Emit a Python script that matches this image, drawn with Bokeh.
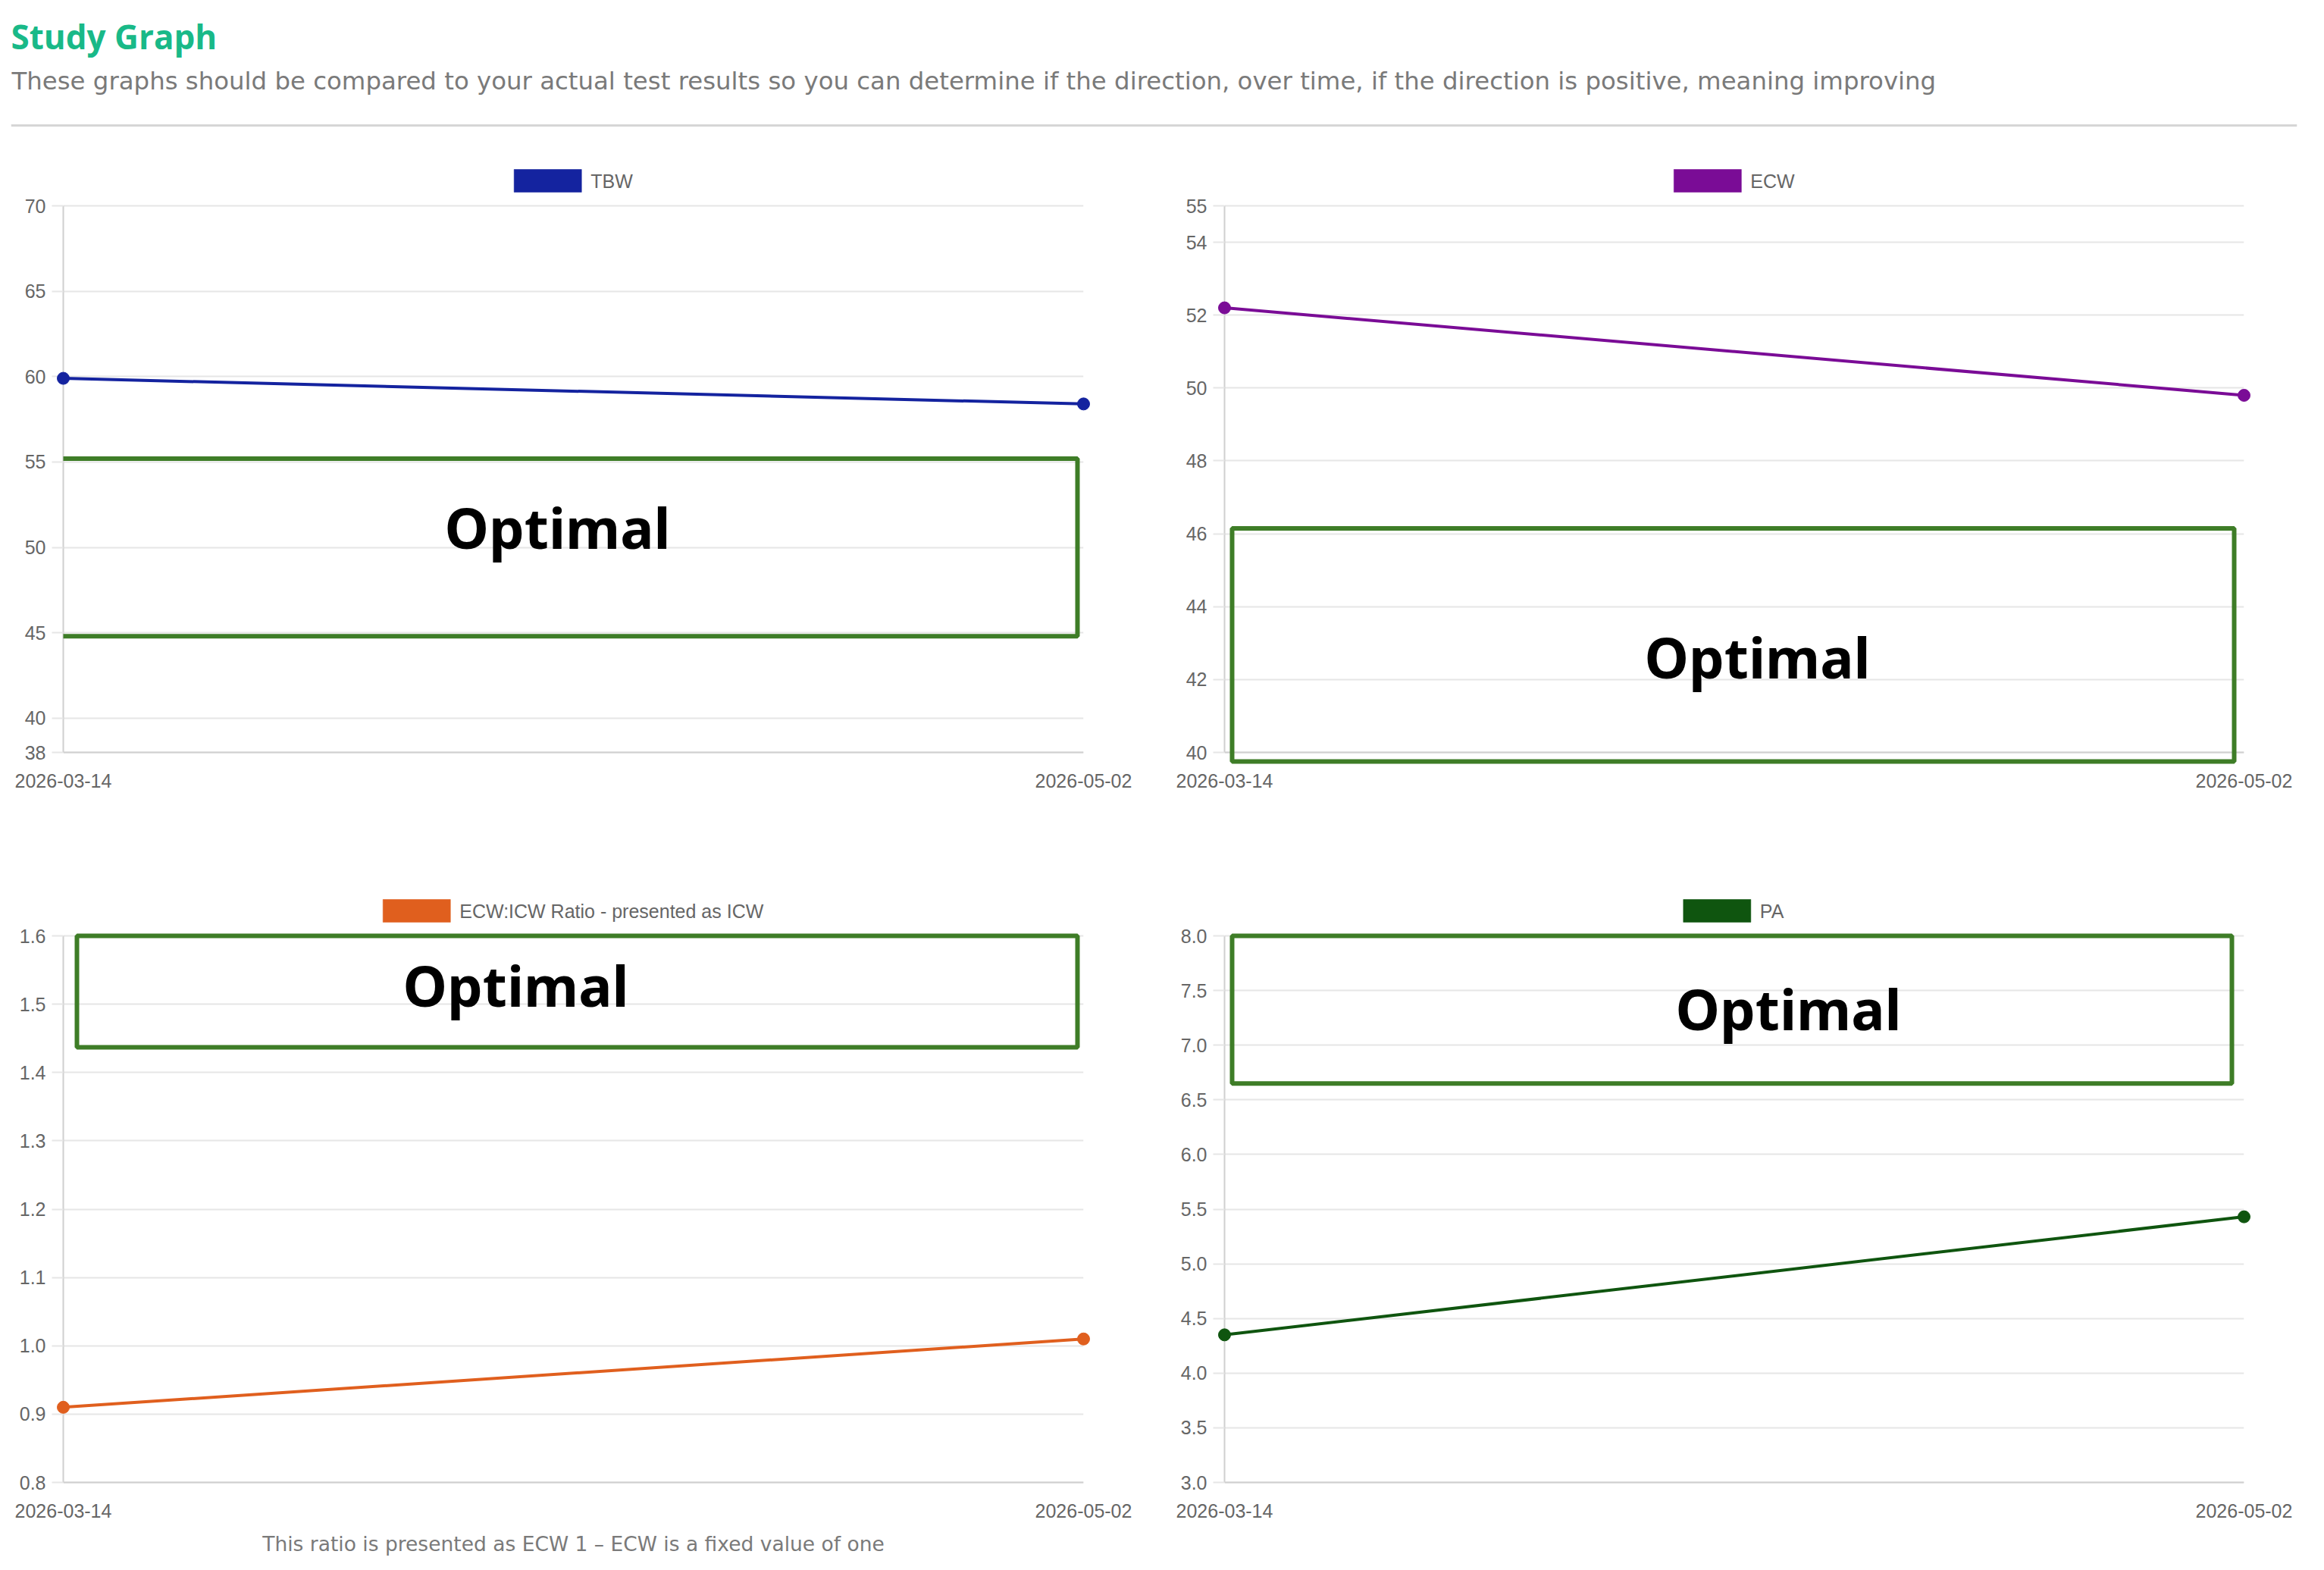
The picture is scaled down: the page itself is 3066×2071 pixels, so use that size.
from datetime import datetime, timezone

from bokeh.embed import file_html
from bokeh.layouts import column, row
from bokeh.models import (BoxAnnotation, DatetimeTickFormatter, FixedTicker, Label,
                          PrintfTickFormatter, Range1d, Span, Title)
from bokeh.plotting import figure
from bokeh.resources import INLINE

# ---- data -------------------------------------------------------------
dates = ["2026-03-14", "2026-05-02"]

tbw = [59.9, 58.4]
ecw = [52.2, 49.8]
ratio = [0.91, 1.01]
pa = [4.35, 5.43]

tbw_ticks = [38, 40, 45, 50, 55, 60, 65, 70]
ecw_ticks = [40, 42, 44, 46, 48, 50, 52, 54, 55]
ratio_ticks = [0.8, 0.9, 1.0, 1.1, 1.2, 1.3, 1.4, 1.5, 1.6]
pa_ticks = [3.0, 3.5, 4.0, 4.5, 5.0, 5.5, 6.0, 6.5, 7.0, 7.5, 8.0]

# optimal bands (low, high)
tbw_optimal = (44.8, 55.2)
ecw_optimal = (39.75, 46.15)
ratio_optimal = (1.437, 1.6)
pa_optimal = (6.65, 8.0)

series_names = ["TBW", "ECW", "ECW:ICW Ratio - presented as ICW", "PA"]
series_colors = ["#14239f", "#7a0c96", "#e05f1e", "#0f550f"]

TITLE = "Study Graph"
SUBTITLE = ("These graphs should be compared to your actual test results so you can determine "
            "if the direction, over time, if the direction is positive, meaning improving")
CAPTION = "This ratio is presented as ECW 1 \u2013 ECW is a fixed value of one"

# ---- styling ------------------------------------------------------------
GRID = "#e6e6e6"
AXIS = "#d0d0d0"
TICK_TEXT = "#666666"
BOX_GREEN = "#3e7d27"
TICK_FONT = "Liberation Sans"
TICK_SIZE = 25

# Arial/Liberation Sans advance widths (per 1000 em) used to centre the legend row
ARIAL_W = {"T": 611, "B": 667, "W": 944, "E": 667, "C": 722, ":": 278, "I": 278,
           " ": 278, "R": 722, "a": 556, "t": 278, "i": 222, "o": 556, "-": 333,
           "p": 556, "r": 333, "e": 556, "s": 500, "n": 556, "d": 556, "P": 667, "A": 667}

PAD_TOP = 50      # room above the value area for the legend row
PAD_BOTTOM = 17   # x tick marks hang below the value area


def text_width(s, size):
    return sum(ARIAL_W.get(c, 556) for c in s) * size / 1000.0


def to_ms(s):
    d = datetime.strptime(s, "%Y-%m-%d").replace(tzinfo=timezone.utc)
    return d.timestamp() * 1000.0


xs = [to_ms(d) for d in dates]


def chart(name, color, values, ticks, fmt, band, box_px, text_px, width, height, borders):
    left, right, top, bottom = borders
    fw = width - left - right
    fh = height - top - bottom          # height of the value area
    x0, x1 = xs[0], xs[-1]
    y0, y1 = ticks[0], ticks[-1]
    unit = (y1 - y0) / fh               # data units per pixel

    # pixel offsets (from the value area's top-left corner) -> data coordinates
    def dx(px):
        return x0 + px / fw * (x1 - x0)

    def dy(px):
        return y1 - px * unit

    p = figure(width=width, height=height, x_axis_type="datetime",
               x_range=Range1d(x0, x1),
               y_range=Range1d(y0 - PAD_BOTTOM * unit, y1 + PAD_TOP * unit),
               output_backend="svg", toolbar_location=None, tools="",
               min_border_left=left, min_border_right=right,
               min_border_top=top - PAD_TOP, min_border_bottom=bottom - PAD_BOTTOM,
               background_fill_color="white", border_fill_color="white",
               outline_line_color=None)

    # x axis: labels only; the vertical grid lines serve as tick marks
    p.xaxis.ticker = FixedTicker(ticks=xs)
    p.xaxis.formatter = DatetimeTickFormatter(
        milliseconds="%Y-%m-%d", seconds="%Y-%m-%d", minsec="%Y-%m-%d",
        minutes="%Y-%m-%d", hourmin="%Y-%m-%d", hours="%Y-%m-%d",
        days="%Y-%m-%d", months="%Y-%m-%d", years="%Y-%m-%d")
    p.xaxis.axis_line_color = None
    p.xaxis.major_tick_line_color = None
    p.xaxis.minor_tick_line_color = None
    p.xaxis.major_label_standoff = 5

    # y axis limited to the value range
    p.yaxis.ticker = FixedTicker(ticks=ticks)
    p.yaxis.formatter = PrintfTickFormatter(format=fmt)
    p.yaxis.bounds = (y0, y1)
    p.yaxis.axis_line_color = AXIS
    p.yaxis.axis_line_width = 2
    p.yaxis.major_tick_line_color = GRID
    p.yaxis.major_tick_line_width = 2
    p.yaxis.major_tick_out = 15
    p.yaxis.major_tick_in = 0
    p.yaxis.minor_tick_line_color = None
    p.yaxis.major_label_standoff = 8

    for ax in (p.xaxis, p.yaxis):
        ax.major_label_text_font = TICK_FONT
        ax.major_label_text_font_size = f"{TICK_SIZE}px"
        ax.major_label_text_color = TICK_TEXT

    p.xgrid.ticker = FixedTicker(ticks=xs)
    p.xgrid.cross_bounds = (y0 - PAD_BOTTOM * unit, y1)
    p.ygrid.ticker = FixedTicker(ticks=ticks)
    p.grid.grid_line_color = GRID
    p.grid.grid_line_width = 2
    p.add_layout(Span(location=y0, dimension="width", line_color=AXIS, line_width=2))

    # series
    p.line(x=xs, y=values, line_color=color, line_width=4, level="overlay")
    p.scatter(x=xs, y=values, size=16, fill_color=color, line_color=color, level="overlay")

    # legend row above the value area: filled swatch + series name, centred
    sw_w, gap = 89, 12
    total = sw_w + gap + text_width(name, TICK_SIZE)
    sw_left = fw / 2 - total / 2
    p.add_layout(BoxAnnotation(left=dx(sw_left), right=dx(sw_left + sw_w),
                               top=dy(-48), bottom=dy(-18),
                               fill_color=color, fill_alpha=1,
                               line_color=color, line_alpha=0.55, line_width=1))
    p.add_layout(Label(x=dx(sw_left + sw_w + gap), y=dy(-33), text=name,
                       text_align="left", text_baseline="middle",
                       text_font=TICK_FONT, text_font_size=f"{TICK_SIZE}px",
                       text_color=TICK_TEXT))

    # optimal band
    p.add_layout(BoxAnnotation(left=dx(box_px[0]), right=dx(box_px[1]),
                               bottom=band[0], top=band[1],
                               fill_alpha=0, line_color=BOX_GREEN, line_alpha=1,
                               line_width=6))
    p.add_layout(Label(x=dx(text_px[0]), y=dy(text_px[1]), text="Optimal",
                       text_align="center", text_baseline="middle",
                       text_font="Noto Sans", text_font_style="bold",
                       text_font_size="74px", text_color="black"))
    return p


# ---- header -------------------------------------------------------------
header = figure(width=3066, height=190, x_range=Range1d(14, 3030), y_range=Range1d(190, 0),
                output_backend="svg", toolbar_location=None, tools="",
                x_axis_location=None, y_axis_location=None,
                min_border_left=14, min_border_right=36, min_border_top=0, min_border_bottom=0,
                background_fill_color="white", border_fill_color="white",
                outline_line_color=None)
header.grid.visible = False
header.add_layout(Label(x=14, y=47, text=TITLE, text_font="Open Sans", text_font_style="bold",
                        text_font_size="44px", text_color="#19b988",
                        text_baseline="middle"))
header.add_layout(Label(x=15, y=106, text=SUBTITLE, text_font="DejaVu Sans",
                        text_font_size="32.4px", text_color="#7a7a7a",
                        text_baseline="middle"))
header.add_layout(Span(location=165, dimension="width", line_color="#d6d6d6", line_width=3))

# ---- charts -------------------------------------------------------------
# borders around the value area: left, right, top, bottom
top_row_b = (83, 104, 81, 158)
top_row_b2 = (82, 106, 81, 158)
bot_row_b = (83, 104, 84, 116)
bot_row_b2 = (82, 106, 84, 116)

p1 = chart(series_names[0], series_colors[0], tbw, tbw_ticks, "%d", tbw_optimal,
           (-8, 1338), (652, 424), 1533, 960, top_row_b)
p2 = chart(series_names[1], series_colors[1], ecw, ecw_ticks, "%d", ecw_optimal,
           (10, 1332), (703, 595), 1533, 960, top_row_b2)
p3 = chart(series_names[2], series_colors[2], ratio, ratio_ticks, "%.1f", ratio_optimal,
           (18, 1338), (597, 65), 1533, 921, bot_row_b)
p4 = chart(series_names[3], series_colors[3], pa, pa_ticks, "%.1f", pa_optimal,
           (10, 1329), (744, 96), 1533, 921, bot_row_b2)

p3.add_layout(Title(text=CAPTION, align="center", text_font="DejaVu Sans",
                    text_font_style="normal", text_font_size="26.5px",
                    text_color="#7a7a7a", standoff=28), "below")

layout = column(header, row(p1, p2), row(p3, p4))

open("out.html", "w").write(file_html(layout, INLINE))
